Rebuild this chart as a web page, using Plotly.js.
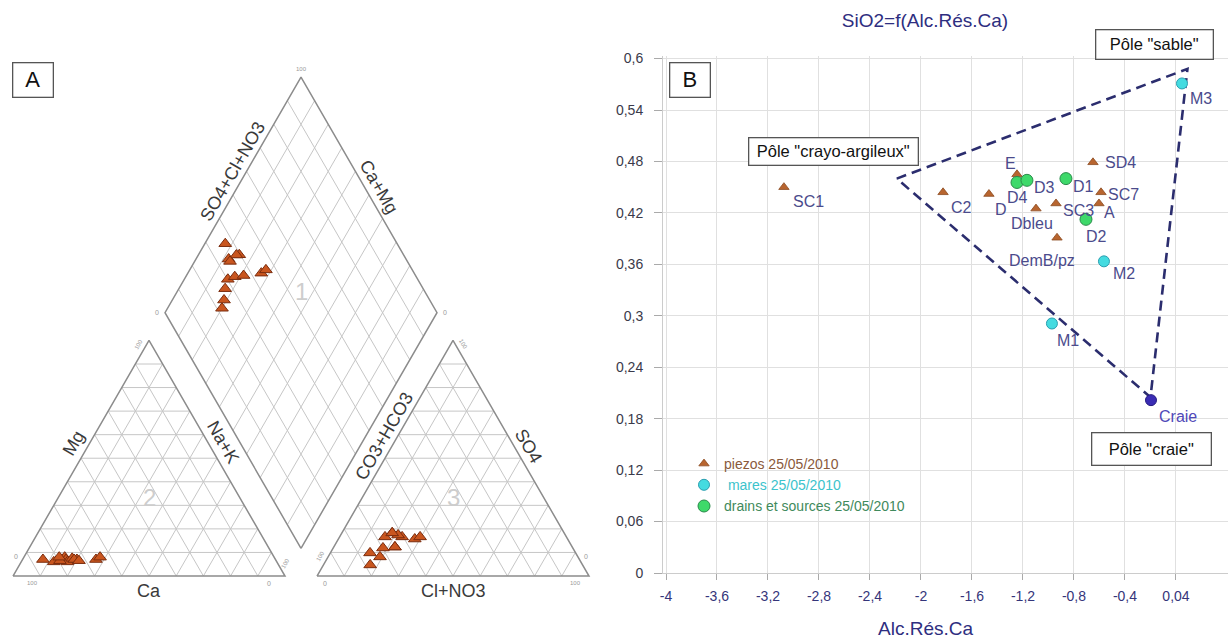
<!DOCTYPE html>
<html>
<head>
<meta charset="utf-8">
<script src="https://cdn.plot.ly/plotly-3.0.1.min.js"></script>
<style>html,body{margin:0;padding:0;background:#fff}#chart{width:1230px;height:643px}</style>
</head>
<body>
<div id="chart"></div>
<script>
// ---------------- Panel A : Piper diagram (meq %) ----------------
const piperNaK = [20, 7.5, 12, 15, 16, 17, 27, 28, 18, 14, 19, 13, 21];
const piperMg  = [7, 7, 6, 8, 7, 6, 7, 8, 7.5, 6.5, 7, 8, 6.5];
const piperSO4 = [4.7, 18.3, 12.3, 16.6, 11.9, 8.1, 15.7, 16.6, 16.6, 17.4, 9.8, 12.3, 18.3];
const piperCl  = [17.2, 18.5, 22.5, 23, 18.3, 19.1, 28.1, 29.6, 16.7, 21.1, 14.6, 22.5, 18.5];

// ---------------- Panel B : SiO2 = f(Alc.Rés.Ca) ----------------
const piezoNames = ['SC1', 'C2', 'D', 'Dbleu', 'E', 'SC3', 'DemB/pz', 'SD4', 'SC7', 'A'];
const piezoAlc   = [-3.075, -1.827, -1.467, -1.098, -1.247, -0.941, -0.933, -0.651, -0.588, -0.604];
const piezoSiO2  = [0.450, 0.444, 0.442, 0.425, 0.465, 0.431, 0.391, 0.479, 0.444, 0.431];

const mareNames = ['M3', 'M2', 'M1'];
const mareAlc   = [0.047, -0.565, -0.973];
const mareSiO2  = [0.571, 0.3635, 0.291];

const drainNames = ['D4', 'D3', 'D1', 'D2'];
const drainAlc   = [-1.247, -1.169, -0.863, -0.706];
const drainSiO2  = [0.4555, 0.458, 0.460, 0.4125];

const craieNames = ['Craie'];
const craieAlc   = [-0.196];
const craieSiO2  = [0.2016];

// end-member polygon : crayo-argileux, sable, craie
const poleAlc  = [-2.19, 0.09, -0.20, -2.19];
const poleSiO2 = [0.46, 0.588, 0.205, 0.46];

const seriesNames = ['piezos 25/05/2010', ' mares 25/05/2010', 'drains et sources 25/05/2010'];
const poleNames = ['Pôle "crayo-argileux"', 'Pôle "sable"', 'Pôle "craie"'];

const xTickVals = [-4, -3.6, -3.2, -2.8, -2.4, -2, -1.6, -1.2, -0.8, -0.4, 0];
const xTickText = ['-4', '-3,6', '-3,2', '-2,8', '-2,4', '-2', '-1,6', '-1,2', '-0,8', '-0,4', '0,04'];

// ================= layout helpers =================
const W = 1230, HT = 643;
const px = v => v / W;
const py = v => 1 - v / HT;

// Piper geometry (pixel units on a hidden cartesian frame)
const SQ3 = Math.sqrt(3);
const S = 272, H = S * SQ3 / 2;
const CAT0 = [13, 576], ANI0 = [317, 576];
const GAP = ANI0[0] - (CAT0[0] + S);
const DIA0 = [CAT0[0] + S + GAP / 2, CAT0[1] - GAP * SQ3 / 2];
function triPt(O, u, v) { return [O[0] + S * (u + v / 2), O[1] - H * v]; }
function diaPt(fa, fc) { return [DIA0[0] + S / 2 * (fa - fc), DIA0[1] - H * (fa + fc)]; }

const gx = [], gy = [];
function seg(p, q) { gx.push(p[0], q[0], null); gy.push(p[1], q[1], null); }
for (let k = 1; k < 10; k++) {
  const f = k / 10;
  [CAT0, ANI0].forEach(O => {
    seg(triPt(O, 0, f), triPt(O, 1 - f, f));
    seg(triPt(O, f, 0), triPt(O, f, 1 - f));
    seg(triPt(O, 1 - f, 0), triPt(O, 0, 1 - f));
  });
  seg(diaPt(f, 0), diaPt(f, 1));
  seg(diaPt(0, f), diaPt(1, f));
}
const fx = [], fy = [];
function poly(pts) {
  pts.forEach(p => { fx.push(p[0]); fy.push(p[1]); });
  fx.push(pts[0][0], null); fy.push(pts[0][1], null);
}
poly([triPt(CAT0, 0, 0), triPt(CAT0, 1, 0), triPt(CAT0, 0, 1)]);
poly([triPt(ANI0, 0, 0), triPt(ANI0, 1, 0), triPt(ANI0, 0, 1)]);
poly([diaPt(0, 0), diaPt(1, 0), diaPt(1, 1), diaPt(0, 1)]);

const sx = [], sy = [];
piperNaK.forEach((nak, i) => {
  const c = triPt(CAT0, nak / 100, piperMg[i] / 100);
  const a = triPt(ANI0, piperCl[i] / 100, piperSO4[i] / 100);
  const d = diaPt((piperSO4[i] + piperCl[i]) / 100, 1 - nak / 100);
  sx.push(c[0], a[0], d[0]); sy.push(c[1], a[1], d[1]);
});

const NL = [-SQ3 / 2, -0.5], NR = [SQ3 / 2, -0.5];
function off(p, n, d) { return [p[0] + n[0] * d, p[1] + n[1] * d]; }
const piperAnn = [];
function pLabel(p, text, angle, size, color) {
  piperAnn.push({xref: 'x', yref: 'y', x: p[0], y: p[1], text: text, showarrow: false,
    textangle: angle, xanchor: 'center', yanchor: 'middle',
    font: {size: size, color: color, family: 'Liberation Sans, Arial, sans-serif'}});
}
const LBL = '#3a3a3a';
pLabel(off(triPt(CAT0, 0, 0.535), NL, 14), 'Mg', -60, 18, LBL);
pLabel(off(triPt(CAT0, 0.46, 0.54), NR, 13), 'Na+K', 60, 18, LBL);
pLabel([triPt(CAT0, 0.5, 0)[0], CAT0[1] + 15], 'Ca', 0, 18, LBL);
pLabel(off(triPt(ANI0, 0, 0.57), NL, 12), 'CO3+HCO3', -60, 18, LBL);
pLabel(off(triPt(ANI0, 0.474, 0.526), NR, 13), 'SO4', 60, 18, LBL);
pLabel([triPt(ANI0, 0.5, 0)[0], ANI0[1] + 15], 'Cl+NO3', 0, 18, LBL);
pLabel(off(diaPt(0.576, 1), NL, 12), 'SO4+Cl+NO3', -60, 18, LBL);
pLabel(off(diaPt(1, 0.508), NR, 13), 'Ca+Mg', 60, 18, LBL);
pLabel(diaPt(0.545, 0.545), '1', 0, 24, '#cdcdcd');
pLabel(triPt(CAT0, 1 / 3, 1 / 3), '2', 0, 24, '#cdcdcd');
pLabel(triPt(ANI0, 1 / 3, 1 / 3), '3', 0, 24, '#cdcdcd');
const TK = '#9a9a9a';
pLabel(off(diaPt(1, 1), [0, -1], 8), '100', 0, 6, TK);
pLabel(off(diaPt(0, 1), [-1, 0], 8), '0', 0, 7, TK);
pLabel(off(diaPt(1, 0), [1, 0], 8), '0', 0, 7, TK);
pLabel(off(triPt(CAT0, 0, 0.07), NL, 7), '0', 0, 7, TK);
pLabel(off(triPt(CAT0, 0.07, 0), [0, 1], 7), '100', 0, 6, TK);
pLabel(off(triPt(CAT0, 0.94, 0), [0, 1], 7), '0', 0, 7, TK);
pLabel(off(triPt(CAT0, 0.96, 0.04), NR, 7), '100', -60, 6, TK);
pLabel(off(triPt(CAT0, 0, 0.97), NL, 7), '100', -60, 6, TK);
pLabel(off(triPt(ANI0, 0, 0.07), NL, 7), '100', -60, 6, TK);
pLabel(off(triPt(ANI0, 0.03, 0), [0, 1], 7), '0', 0, 7, TK);
pLabel(off(triPt(ANI0, 0.95, 0), [0, 1], 7), '100', 0, 6, TK);
pLabel(off(triPt(ANI0, 0.93, 0.07), NR, 7), '0', 0, 7, TK);
pLabel(off(triPt(ANI0, 0.03, 0.97), NR, 7), '100', 60, 6, TK);

// ================= Panel B labels =================
const labelOffsets = {
  'SC1': [25, 14], 'C2': [18, 15], 'D': [12, 15], 'Dbleu': [-4, 15], 'E': [-6, -11],
  'SC3': [22, 7], 'DemB/pz': [-15, 23], 'SD4': [28, 0], 'SC7': [22, 2], 'A': [11, 9],
  'M3': [19, 15], 'M2': [20, 12], 'M1': [16, 17],
  'D4': [1, 15], 'D3': [18, 7], 'D1': [18, 8], 'D2': [11, 17], 'Craie': [27, 16]
};
const ptAnn = [];
function addLabels(names, xs, ys, color) {
  names.forEach((n, i) => {
    const o = labelOffsets[n] || [12, 12];
    ptAnn.push({xref: 'x2', yref: 'y2', x: xs[i], y: ys[i], text: n, showarrow: false,
      xanchor: 'center', yanchor: 'middle', xshift: o[0], yshift: -o[1],
      font: {size: 16, color: color}});
  });
}
const PTL = '#4b4b8c';
addLabels(piezoNames, piezoAlc, piezoSiO2, PTL);
addLabels(mareNames, mareAlc, mareSiO2, PTL);
addLabels(drainNames, drainAlc, drainSiO2, PTL);
addLabels(craieNames, craieAlc, craieSiO2, '#5048b8');

function boxAnn(cx, cy, w, h, text, size) {
  return {xref: 'paper', yref: 'paper', x: px(cx), y: py(cy), xanchor: 'center', yanchor: 'middle',
    text: text, showarrow: false, width: w, height: h, borderpad: 1,
    bordercolor: '#555555', borderwidth: 1.3, bgcolor: '#ffffff',
    font: {size: size, color: '#111111'}};
}
const boxes = [
  boxAnn(32.5, 80.5, 37, 31, 'A', 22),
  boxAnn(689.5, 80.5, 37, 31, 'B', 22),
  boxAnn(833, 152, 166, 24, poleNames[0], 16.5),
  boxAnn(1154, 45, 114, 26, poleNames[1], 16.5),
  boxAnn(1151, 448.5, 116, 29, poleNames[2], 16.5),
  {xref: 'paper', yref: 'paper', x: px(925), y: py(628), xanchor: 'center', yanchor: 'middle',
   text: 'Alc.Rés.Ca', showarrow: false, font: {size: 19, color: '#2e2e80'}}
];

// ================= traces =================
const traces = [
  {x: gx, y: gy, xaxis: 'x', yaxis: 'y', mode: 'lines', line: {color: '#c6c6c6', width: 1},
   hoverinfo: 'skip', showlegend: false},
  {x: fx, y: fy, xaxis: 'x', yaxis: 'y', mode: 'lines', line: {color: '#8c8c8c', width: 1.5},
   hoverinfo: 'skip', showlegend: false},
  {x: sx, y: sy, xaxis: 'x', yaxis: 'y', mode: 'markers', showlegend: false, cliponaxis: false,
   marker: {symbol: 'triangle-up', size: 11, color: '#c9561f', line: {color: '#7a2c0e', width: 1}}},

  {x: poleAlc, y: poleSiO2, xaxis: 'x2', yaxis: 'y2', mode: 'lines', showlegend: false,
   line: {color: '#2b2d6e', width: 2.6, dash: '10px,6px'}, hoverinfo: 'skip'},
  {x: piezoAlc, y: piezoSiO2, xaxis: 'x2', yaxis: 'y2', mode: 'markers', cliponaxis: false,
   name: '<span style="color:#8a5a3c">' + seriesNames[0] + '</span>',
   marker: {symbol: 'triangle-up', size: 9, color: '#b8652f', line: {color: '#8a4a20', width: 0.8}}},
  {x: mareAlc, y: mareSiO2, xaxis: 'x2', yaxis: 'y2', mode: 'markers', cliponaxis: false,
   name: '<span style="color:#3cc3cc">' + seriesNames[1] + '</span>',
   marker: {symbol: 'circle', size: 11, color: '#44dbe0', line: {color: '#2a9fb0', width: 1}}},
  {x: drainAlc, y: drainSiO2, xaxis: 'x2', yaxis: 'y2', mode: 'markers', cliponaxis: false,
   name: '<span style="color:#3f8a5c">' + seriesNames[2] + '</span>',
   marker: {symbol: 'circle', size: 12, color: '#3ed96a', line: {color: '#2a8a4a', width: 1}}},
  {x: craieAlc, y: craieSiO2, xaxis: 'x2', yaxis: 'y2', mode: 'markers', showlegend: false, cliponaxis: false,
   marker: {symbol: 'circle', size: 11, color: '#3a2cb4', line: {color: '#251a80', width: 1}}}
];

const layout = {
  width: W, height: HT,
  margin: {l: 0, r: 0, t: 0, b: 0},
  paper_bgcolor: '#ffffff', plot_bgcolor: '#ffffff',
  font: {family: 'Liberation Sans, Arial, sans-serif', color: '#333'},
  separators: ', ',
  title: {text: 'SiO2=f(Alc.Rés.Ca)', x: px(925), y: py(20), xanchor: 'center', yanchor: 'middle',
    font: {size: 19, color: '#2e2e80'}},
  xaxis: {domain: [0, px(603)], range: [0, 603], visible: false, fixedrange: true},
  yaxis: {domain: [0, 1], range: [HT, 0], visible: false, fixedrange: true},
  xaxis2: {domain: [px(663), px(1228)], anchor: 'y2', range: [-4.0235, 0.408],
    tickvals: xTickVals, ticktext: xTickText, ticks: 'outside', ticklen: 6, tickcolor: '#aaaaaa',
    ticklabelstandoff: 4,
    tickfont: {size: 14, color: '#35357a'}, showgrid: true, gridcolor: '#e0e0e0', gridwidth: 1,
    zeroline: false, showline: true, linecolor: '#cccccc', linewidth: 1},
  yaxis2: {domain: [py(573), py(56)], anchor: 'x2', range: [0, 0.603],
    tick0: 0, dtick: 0.06, ticks: 'outside', ticklen: 8, tickcolor: '#aaaaaa', ticklabelstandoff: 8,
    tickfont: {size: 14, color: '#3a3a4a'}, showgrid: true, gridcolor: '#e0e0e0', gridwidth: 1,
    zeroline: false, showline: true, linecolor: '#cccccc', linewidth: 1},
  showlegend: true,
  legend: {x: px(684), y: py(448), xanchor: 'left', yanchor: 'top', bgcolor: 'rgba(0,0,0,0)',
    font: {size: 14}, itemsizing: 'trace', traceorder: 'normal', tracegroupgap: 0},
  annotations: piperAnn.concat(ptAnn, boxes)
};

Plotly.newPlot('chart', traces, layout, {displayModeBar: false, staticPlot: true});
</script>
</body>
</html>
